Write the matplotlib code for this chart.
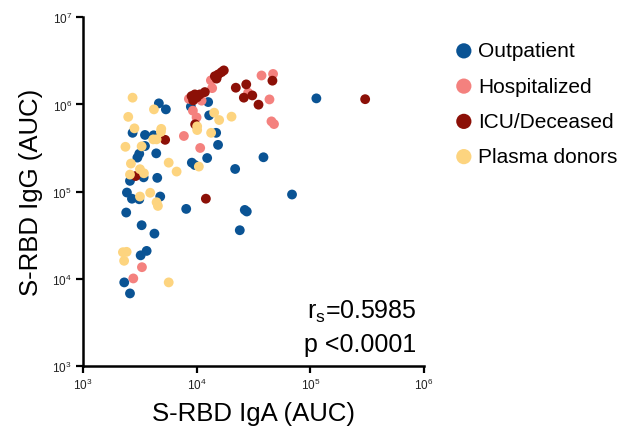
import matplotlib
matplotlib.use("Agg")
import matplotlib.pyplot as plt
from matplotlib.ticker import LogLocator, LogFormatterSciNotation, NullLocator

plt.rcParams['font.family'] = ['Liberation Sans', 'DejaVu Sans']
plt.rcParams['mathtext.default'] = 'regular'

groups = ["Outpatient", "Hospitalized", "ICU/Deceased", "Plasma donors"]
colors = ["#0a5394", "#f4817e", "#8c1007", "#fdd47f"]

outpatient_iga = [113000, 69000, 38700, 26500, 27600, 23950, 21800, 12370, 9070, 9640,
                  15420, 14840, 12880, 8890, 12620, 8090, 4650, 5360, 2730, 3510,
                  4180, 3510, 3125, 3010, 4410, 2590, 3415, 4500, 2435, 2695,
                  3125, 4780, 2400, 3280, 4250, 3215, 3630, 2306, 2590]
outpatient_igg = [1175000, 92700, 248000, 61700, 59200, 36100, 182000, 243000, 215000, 202000,
                  344000, 473000, 750000, 944000, 1066000, 63400, 1030000, 879000, 473000, 447000,
                  443000, 334000, 272000, 246000, 275000, 133000, 146000, 144000, 97700, 83000,
                  81800, 87900, 57600, 41200, 33000, 18600, 20900, 9100, 6800]

hosp_iga = [37200, 47000, 28350, 43700, 45500, 47900, 13690, 11050, 9260, 9980,
            7720, 10740, 3300, 2770, 8540, 13340]
hosp_igg = [2150000, 2240000, 1365000, 1143000, 640000, 596000, 1540000, 1106000, 849000, 711000,
            435000, 317000, 13600, 10100, 1160000, 1890000]

icu_iga = [303600, 46400, 22100, 27300, 30850, 26000, 35000, 14450, 15450, 16550,
           14960, 17330, 9020, 9640, 10670, 11800, 9310, 10040, 9700, 5280,
           2905, 12050]
icu_igg = [1150000, 1875000, 1557000, 1700000, 1270000, 1197000, 995000, 2110000, 2210000, 2350000,
           1980000, 2460000, 1248000, 1305000, 1305000, 1387000, 1114000, 1206000, 592000, 393000,
           151000, 83000]

plasma_iga = [2730, 4210, 2500, 14250, 15770, 20260, 10100, 10100, 13400, 10450,
              2835, 4880, 4845, 4150, 4440, 2362, 3280, 2640, 5675, 6660,
              3170, 3435, 2590, 3170, 3900, 4440, 4560, 2245, 2420, 2300, 5675]
plasma_igg = [1197000, 879000, 721000, 805000, 663000, 725000, 561000, 509000, 473000, 194000,
              532000, 525000, 485000, 398000, 398000, 327000, 331000, 210000, 215000, 170000,
              181000, 162500, 157000, 87900, 97100, 75600, 68600, 20200, 20400, 16100, 9100]

stats_lines = [r"r$_{s}$=0.5985", "p <0.0001"]

fig = plt.figure(figsize=(6.22, 4.27), dpi=100)
ax = fig.add_axes([83/622, 1-367/427, (424-83)/622, (367-18.3)/427])

data = [(outpatient_iga, outpatient_igg), (hosp_iga, hosp_igg),
        (icu_iga, icu_igg), (plasma_iga, plasma_igg)]
for (xs, ys), name, c in zip(data, groups, colors):
    ax.scatter(xs, ys, s=50, color=c, edgecolors='none', label=name, zorder=3)

ax.set_xscale('log')
ax.set_yscale('log')
ax.set_xlim(1e3, 1e6)
ax.set_ylim(1e3, 1e7)
for a in (ax.xaxis, ax.yaxis):
    a.set_major_locator(LogLocator(base=10, numticks=10))
    a.set_major_formatter(LogFormatterSciNotation())
    a.set_minor_locator(NullLocator())

for s in ('top', 'right'):
    ax.spines[s].set_visible(False)
for s in ('left', 'bottom'):
    ax.spines[s].set_linewidth(1.8)
ax.tick_params(axis='both', which='major', length=5, width=1.6, labelsize=8.5,
               direction='out', pad=3, labelcolor='#222222')

ax.set_xlabel("S-RBD IgA (AUC)", fontsize=18.5, labelpad=6)
ax.set_ylabel("S-RBD IgG (AUC)", fontsize=18.5, labelpad=7)

ax.text(0.977, 0.158, stats_lines[0], transform=ax.transAxes, ha='right', va='center', fontsize=18)
ax.text(0.977, 0.063, stats_lines[1], transform=ax.transAxes, ha='right', va='center', fontsize=18)

leg = ax.legend(loc='upper left', bbox_to_anchor=(443/622, 1-34/427), bbox_transform=fig.transFigure,
                frameon=False, fontsize=15, markerscale=1.55, handletextpad=0.1,
                labelspacing=0.78, borderaxespad=0, handlelength=1.2)

fig.savefig("out.png", dpi=100, facecolor='white')
